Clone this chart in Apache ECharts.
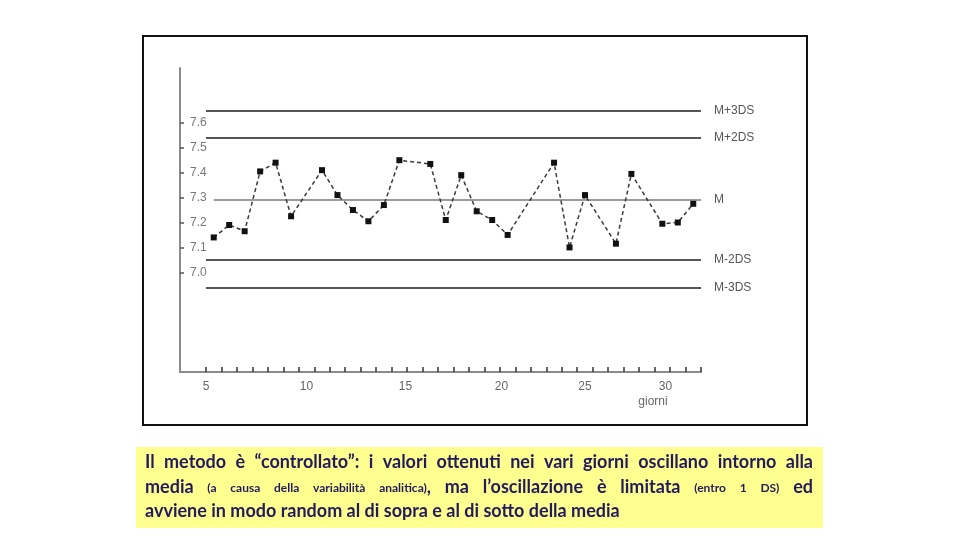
<!DOCTYPE html>
<html>
<head>
<meta charset="utf-8">
<script src="https://cdn.jsdelivr.net/npm/echarts@6/dist/echarts.min.js"></script>
<style>html,body{margin:0;padding:0;background:#fff}#c{width:960px;height:540px}</style>
</head>
<body>
<div id="c"></div>
<script>
// ---- data ----
const giorni = [1,2,3,4,5,6,8,9,10,11,12,13,15,16,17,18,19,20,23,24,25,27,28,30,31,32];
const valori = [7.14,7.19,7.165,7.405,7.44,7.225,7.41,7.31,7.25,7.205,7.27,7.45,7.435,7.21,7.39,7.245,7.21,7.15,7.44,7.10,7.31,7.115,7.395,7.195,7.20,7.275];
const limitiNomi = ['M+3DS','M+2DS','M','M-2DS','M-3DS'];
const limitiValori = [7.65,7.54,7.29,7.05,6.94];
const yTickValori = [7.0,7.1,7.2,7.3,7.4,7.5,7.6];
const xLabels = ['5','10','15','20','25','30'];
const xLabelAt = [0.5,7,13.4,19.6,25,30.2];
const xNome = 'giorni';
const didascalia = [
  'Il metodo è “controllato”: i valori ottenuti nei vari giorni oscillano intorno alla',
  'media [(a causa della variabilità analitica)], ma l’oscillazione è limitata [(entro 1 DS)] ed',
  'avviene in modo random al di sopra e al di sotto della media'
];

// ---- layout ----
const X_FIRST_TICK = 0.5, X_LAST_TICK = 32.5;
const xTickAt = [];
for (let t = X_FIRST_TICK; t <= X_LAST_TICK + 1e-9; t += 1) xTickAt.push(t);

const chart = echarts.init(document.getElementById('c'), null, {renderer:'canvas'});

// caption words (justified)
const capFont = 'Lato, "Open Sans", sans-serif';
let BIG = 18, SMALL = 12;
const capColor = '#231a5e';
const capLeft = 145, capRight = 813;
const capY = [463, 488, 512];
const meas = document.createElement('canvas').getContext('2d');
function w(text, size){ meas.font = 'bold ' + size + 'px ' + capFont; return meas.measureText(text).width; }
function parseLine(line){
  const tokens = []; let small = false;
  line.split(' ').forEach(tok => {
    const runs = []; let cur = '';
    for (const ch of tok) {
      if (ch === '[') { if (cur) runs.push([cur, small]); cur=''; small = true; }
      else if (ch === ']') { if (cur) runs.push([cur, small]); cur=''; small = false; }
      else cur += ch;
    }
    if (cur) runs.push([cur, small]);
    tokens.push(runs);
  });
  return tokens;
}
// shrink if a justified line would not fit
for (let k = 0; k < 10; k++) {
  let ok = true;
  didascalia.slice(0, -1).forEach(line => {
    const tokens = parseLine(line);
    const total = tokens.reduce((s, r) => s + r.reduce((a, run) => a + w(run[0], run[1] ? SMALL : BIG), 0), 0);
    if (total + (tokens.length - 1) * w(' ', BIG) * 0.8 > capRight - capLeft) ok = false;
  });
  if (ok) break;
  BIG -= 0.5; SMALL -= 0.3;
}
const capEls = [];
didascalia.forEach((line, li) => {
  const tokens = parseLine(line);
  const tw = tokens.map(r => r.reduce((s, run) => s + w(run[0], run[1] ? SMALL : BIG), 0));
  const total = tw.reduce((a,b)=>a+b,0);
  const justify = li < didascalia.length - 1;
  const gap = justify ? (capRight - capLeft - total) / (tokens.length - 1) : w(' ', BIG);
  let x = capLeft;
  tokens.forEach((runs, ti) => {
    let rx = x;
    runs.forEach(run => {
      const size = run[1] ? SMALL : BIG;
      capEls.push({type:'text', z:20, style:{text: run[0], x: rx, y: capY[li] + (run[1] ? 6 : 8), fontFamily: capFont, fontWeight:'bold', fontSize: size, fill: capColor, align:'left', verticalAlign:'bottom'}});
      rx += w(run[0], size);
    });
    x += tw[ti] + gap;
  });
});

const option = {
  animation: false,
  backgroundColor: '#ffffff',
  grid: {left: 180, top: 68, width: 521, height: 304, containLabel: false},
  xAxis: {
    type: 'value', min: -1.18, max: X_LAST_TICK,
    axisLine: {show: true, onZero: false, lineStyle: {color: '#8c8c8c', width: 2}},
    axisTick: {show: true, inside: true, length: 5, customValues: xTickAt, lineStyle: {color: '#333', width: 1.5}},
    axisLabel: {show: true, customValues: xLabelAt, margin: 9, color: '#666', fontSize: 12, fontFamily: 'Liberation Sans',
      formatter: v => { let bi = 0; xLabelAt.forEach((p,i)=>{ if (Math.abs(p-v) < Math.abs(xLabelAt[bi]-v)) bi = i; }); return xLabels[bi]; }},
    splitLine: {show: false}
  },
  yAxis: {
    type: 'value', min: 6.6, max: 7.82,
    axisLine: {show: true, onZero: false, lineStyle: {color: '#8c8c8c', width: 2}},
    axisTick: {show: true, inside: true, length: 4, customValues: yTickValori, lineStyle: {color: '#555', width: 1.5}},
    axisLabel: {show: true, inside: true, customValues: yTickValori, margin: 10, color: '#777', fontSize: 12, fontFamily: 'Liberation Sans',
      formatter: v => v.toFixed(1)},
    splitLine: {show: false}
  },
  series: [{
    type: 'line',
    z: 5,
    data: giorni.map((g, i) => [g, valori[i]]),
    symbol: 'rect', symbolSize: 6,
    itemStyle: {color: '#111'},
    lineStyle: {color: '#3a3a3a', width: 1.5, type: [4, 3]},
    markLine: {
      silent: true, symbol: ['none','none'], animation: false, z: 2,
      label: {show: true, position: 'end', formatter: '{b}', color: '#555', fontSize: 12, fontFamily: 'Liberation Sans', distance: 13},
      data: limitiNomi.map((n, i) => [
        {name: n, coord: [n === 'M' ? giorni[0] : X_FIRST_TICK, limitiValori[i]],
         lineStyle: n === 'M' ? {type:'solid', color:'#7a7a7a', width:1.5} : {type:'solid', color:'#555', width:2.2}},
        {coord: [X_LAST_TICK, limitiValori[i]]}
      ])
    }
  }],
  graphic: [
    {type:'rect', z: 1, shape:{x:143, y:36, width:664, height:389}, style:{fill:'none', stroke:'#111', lineWidth:2}},
    {type:'text', z: 10, style:{text: xNome, x: 653, y: 402, align:'center', verticalAlign:'middle', fill:'#666', fontSize:12, fontFamily:'Liberation Sans'}},
    {type:'rect', z: 15, shape:{x:136, y:447, width:687, height:81}, style:{fill:'#ffff8f'}}
  ].concat(capEls)
};
chart.setOption(option);
</script>
</body>
</html>
